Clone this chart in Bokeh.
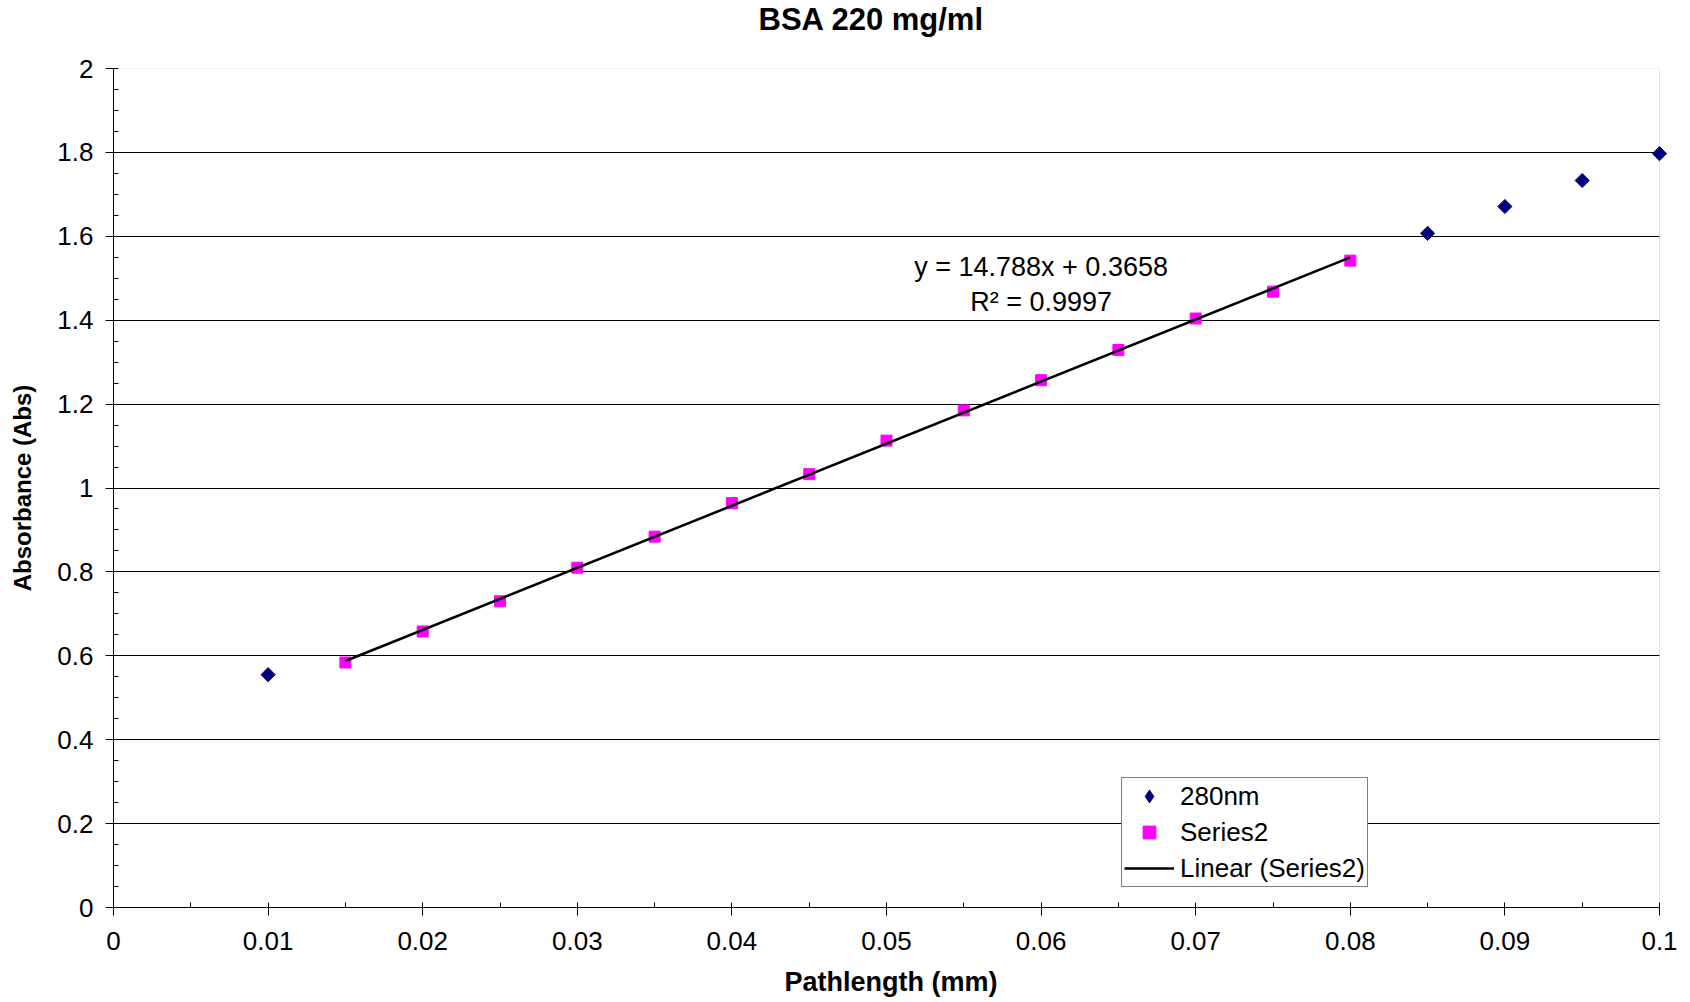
import numpy as np
from bokeh.plotting import figure
from bokeh.models import (Range1d, FixedTicker, Label, Legend, LegendItem,
                          BoxAnnotation, Title)
from bokeh.embed import file_html
from bokeh.resources import INLINE

# ---------------- data ----------------
title_text = "BSA 220 mg/ml"
x_label = "Pathlength (mm)"
y_label = "Absorbance (Abs)"

s1_name = "280nm"
s1_x = [0.01, 0.085, 0.09, 0.095, 0.1]
s1_y = [0.555, 1.607, 1.671, 1.733, 1.797]

s2_name = "Series2"
s2_x = [0.015, 0.02, 0.025, 0.03, 0.035, 0.04, 0.045, 0.05, 0.055, 0.06,
        0.065, 0.07, 0.075, 0.08]
s2_y = [0.584, 0.658, 0.730, 0.810, 0.884, 0.964, 1.033, 1.113, 1.185, 1.257,
        1.329, 1.404, 1.468, 1.542]

trend_name = "Linear (Series2)"
eq_text = "y = 14.788x + 0.3658"
r2_text = "R² = 0.9997"

x_ticks = [0, 0.01, 0.02, 0.03, 0.04, 0.05, 0.06, 0.07, 0.08, 0.09, 0.1]
x_tick_labels = ["0", "0.01", "0.02", "0.03", "0.04", "0.05", "0.06", "0.07",
                 "0.08", "0.09", "0.1"]
y_ticks = [0, 0.2, 0.4, 0.6, 0.8, 1, 1.2, 1.4, 1.6, 1.8, 2]
y_tick_labels = ["0", "0.2", "0.4", "0.6", "0.8", "1", "1.2", "1.4", "1.6",
                 "1.8", "2"]

# ---------------- styles ----------------
FONT = "Liberation Sans"
NAVY = "#000080"
MAGENTA = "#FF00FF"

x_min, x_max = x_ticks[0], x_ticks[-1]
y_min, y_max = y_ticks[0], y_ticks[-1]
x_end = x_max * (1 + 9 / 1546)  # a little room so the last marker isn't clipped

p = figure(width=1690, height=1000,
           x_range=Range1d(x_min, x_end), y_range=Range1d(y_min, y_max),
           output_backend="svg", toolbar_location=None,
           min_border_left=113, min_border_right=22,
           min_border_top=68, min_border_bottom=93,
           background_fill_color="white", border_fill_color="white",
           title=title_text)
p.outline_line_color = None

# title (pushed to the top of the page by a thin spacer panel below it)
p.title.text_font = FONT
p.title.text_font_size = "31px"
p.title.text_font_style = "bold"
p.title.text_color = "#000000"
p.title.align = "left"
p.title.offset = 645
p.title.vertical_align = "top"
p.title.standoff = 0
p.add_layout(Title(text=" ", text_font_size="1px", standoff=27), "above")

# frame border (grey top/right)
p.add_layout(BoxAnnotation(left=x_min, right=x_max, bottom=y_min, top=y_max,
                           fill_color=None, fill_alpha=0, line_color="#a0a0a0",
                           line_width=1, level="underlay"))

# grids
p.xgrid.visible = False
yg = p.ygrid[0]
yg.ticker = FixedTicker(ticks=y_ticks[1:-1])
yg.grid_line_color = "#000000"
yg.grid_line_width = 1
if "cross_bounds" in yg.properties():
    yg.cross_bounds = (x_min, x_max)

# axes
x_minor = list(np.arange(x_min, x_max + 1e-9, 0.005))
y_minor = list(np.arange(y_min, y_max + 1e-9, 0.05))
p.xaxis.ticker = FixedTicker(ticks=x_ticks, minor_ticks=x_minor)
p.yaxis.ticker = FixedTicker(ticks=y_ticks, minor_ticks=y_minor)
p.xaxis.major_label_overrides = {t: s for t, s in zip(x_ticks, x_tick_labels)}
p.yaxis.major_label_overrides = {t: s for t, s in zip(y_ticks, y_tick_labels)}
p.xaxis.bounds = (x_min, x_max)
p.yaxis.bounds = (y_min, y_max)

for ax in (p.xaxis[0], p.yaxis[0]):
    ax.axis_line_color = "#000000"
    ax.axis_line_width = 1
    ax.major_tick_line_color = "#000000"
    ax.minor_tick_line_color = "#000000"
    ax.major_tick_out = 8
    ax.major_tick_in = 0
    ax.minor_tick_out = 0
    ax.minor_tick_in = 5
    ax.major_label_text_font = FONT
    ax.major_label_text_font_size = "26px"
    ax.major_label_text_color = "#000000"
    ax.axis_label_text_font = FONT
    ax.axis_label_text_font_style = "bold"
    ax.axis_label_text_color = "#000000"

p.xaxis.axis_label = x_label
p.yaxis.axis_label = y_label
p.xaxis.axis_label_text_font_size = "27px"
p.yaxis.axis_label_text_font_size = "24px"
p.xaxis.major_label_standoff = 16
p.xaxis.axis_label_standoff = 14
p.yaxis.major_label_standoff = 12
p.yaxis.axis_label_standoff = 18
p.yaxis.major_label_orientation = "horizontal"

# glyphs
# diamond-shaped key for the legend (legend glyphs are drawn unrotated);
# it sits fully underneath the rotated squares below
r1_key = p.scatter(s1_x, s1_y, marker="diamond", size=8, fill_color=NAVY,
                   line_color=NAVY)
r1 = p.scatter(s1_x, s1_y, marker="square", size=10, angle=np.pi / 4,
               fill_color=NAVY, line_color=NAVY)
r2 = p.scatter(s2_x, s2_y, marker="square", size=11, fill_color=MAGENTA,
               line_color=MAGENTA)

slope, intercept = np.polyfit(s2_x, s2_y, 1)
tx = np.array([s2_x[0], s2_x[-1]])
r3 = p.line(tx, slope * tx + intercept, line_color="#000000", line_width=2.5)

# equation labels
eq_x = 0.06
p.add_layout(Label(x=eq_x, y=1.526, text=eq_text, text_align="center",
                   text_baseline="middle", text_font=FONT,
                   text_font_size="27px", text_color="#000000"))
p.add_layout(Label(x=eq_x, y=1.443, text=r2_text, text_align="center",
                   text_baseline="middle", text_font=FONT,
                   text_font_size="27px", text_color="#000000"))

# legend
legend = Legend(items=[LegendItem(label=s1_name, renderers=[r1_key]),
                       LegendItem(label=s2_name, renderers=[r2]),
                       LegendItem(label=trend_name, renderers=[r3])],
                location=(1008, 20), orientation="vertical",
                label_text_font=FONT, label_text_font_size="26px",
                label_text_color="#000000",
                border_line_color="#000000", border_line_width=1,
                background_fill_color="white", background_fill_alpha=1,
                padding=2, spacing=4, margin=0,
                glyph_width=50, glyph_height=32, label_height=27,
                label_standoff=6)
p.add_layout(legend)

open("out.html", "w").write(file_html(p, INLINE))
